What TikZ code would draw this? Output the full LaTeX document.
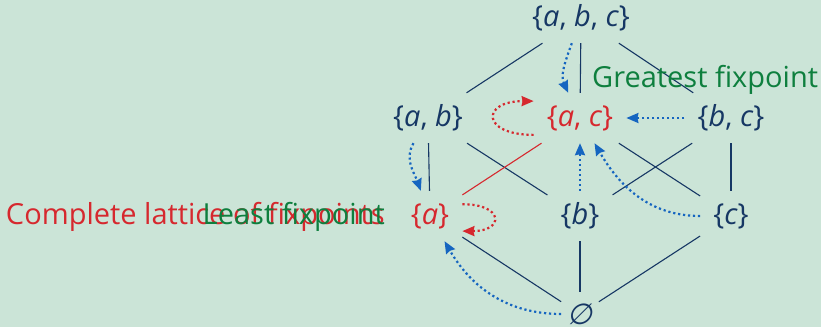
\documentclass[tikz,border=0pt]{standalone}
\usepackage{fontspec}
\setmainfont{Open Sans}
\newfontfamily\symfont{DejaVu Sans}[FakeSlant=0.2]
\usetikzlibrary{arrows.meta,positioning}
\tikzset{>=Stealth}
\definecolor{bgmint}{RGB}{203,228,215}
\definecolor{navy}{RGB}{22,55,100}
\definecolor{fixred}{RGB}{214,40,46}
\definecolor{fixgreen}{RGB}{14,127,62}
\definecolor{iterblue}{RGB}{21,101,192}
\newcommand{\setof}[1]{\{#1\}}
\newcommand{\el}[1]{\textit{#1}}

\begin{document}
\begin{tikzpicture}[x=1pt, y=1pt,
    elem/.style={inner xsep=13pt, inner ysep=0pt, minimum height=50pt, text=#1, font=\fontsize{29}{33}\selectfont},
    elem/.default=navy,
    link/.style={draw=#1, line width=1.1pt},
    link/.default=navy,
    iter/.style={->, draw=iterblue, line width=2.2pt, dash pattern=on 2.2pt off 2.8pt, >={Stealth[length=12pt, width=10pt, inset=1pt]}},
    selfloop/.style={iter, draw=fixred},
    caption/.style={inner sep=0pt, text=#1, font=\fontsize{29}{33}\selectfont}
  ]
    \fill[bgmint] (0,0) rectangle (821,327);
    \useasboundingbox (0,0) rectangle (821,327);

    % the lattice
    \node[elem]        (abc)   at (581,309) {\setof{\el{a}, \el{b}, \el{c}}};
    \node[elem]        (ab)    at (428,209) {\setof{\el{a}, \el{b}}};
    \node[elem=fixred] (ac)    at (580,209) {\setof{\el{a}, \el{c}}};
    \node[elem]        (bc)    at (731,209) {\setof{\el{b}, \el{c}}};
    \node[elem=fixred] (a)     at (430,111) {\setof{\el{a}}};
    \node[elem]        (b)     at (580,111) {\setof{\el{b}}};
    \node[elem]        (c)     at (731,111) {\setof{\el{c}}};
    \node[elem, inner xsep=6pt, minimum height=44pt] (empty) at (580,13) {\symfont ∅};

    \draw[link] (abc) -- (ab);
    \draw[link] (abc) -- (ac);
    \draw[link] (abc) -- (bc);
    \draw[link] (ab) -- (a);
    \draw[link] (ab) -- (b);
    \draw[link=fixred] (ac) -- (a);
    \draw[link] (ac) -- (c);
    \draw[link] (bc) -- (b);
    \draw[link] (bc) -- (c);
    \draw[link] (a) -- (empty);
    \draw[link] (b) -- (empty);
    \draw[link] (c) -- (empty);

    % labels
    \node[caption=fixgreen, anchor=base west] (gfp) at (592,239) {Greatest fixpoint};
    \node[caption=fixred, anchor=base east] (lattice) at (385,103) {Complete lattice of fixpoints};
    \node[caption=fixgreen, anchor=base east] (lfp) at (385,103) {Least fixpoint};

    % iterations
    \draw[iter] (abc) to[out=250, in=115] (ac);
    \draw[iter] (bc) -- (ac);
    \draw[iter] (ab) to[out=240, in=110] (a);
    \draw[iter] (b) -- (ac);
    \draw[iter] (c) to[out=180, in=-60] (ac);
    \draw[iter] (empty) to[out=180, in=-60] (a);
    \draw[selfloop] (ac.200) to[out=180, in=180, looseness=4] (ac.160);
    \draw[selfloop] (a.20) to[out=0, in=0, looseness=4] (a.-25);
\end{tikzpicture}
\end{document}
